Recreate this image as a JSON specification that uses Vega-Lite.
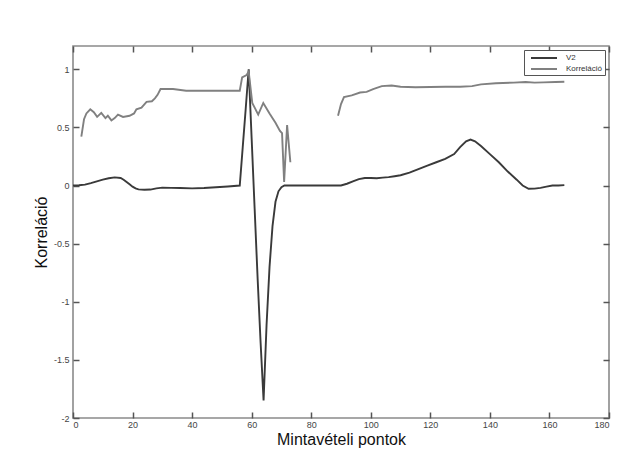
{
  "$schema": "https://vega.github.io/schema/vega-lite/v6.json",
  "width": 536,
  "height": 372,
  "autosize": {"type": "none"},
  "padding": {"left": 73, "top": 46, "right": 29, "bottom": 50},
  "background": "white",
  "config": {
    "font": "Liberation Sans",
    "view": {"stroke": "#8a8a8a", "strokeWidth": 1.6},
    "axis": {
      "grid": false,
      "domain": false,
      "offset": -6,
      "tickColor": "#555555",
      "tickWidth": 1.5,
      "tickSize": 6,
      "ticks": true,
      "labelFont": "Liberation Sans",
      "labelFontSize": 9,
      "labelColor": "#444444",
      "titleFont": "Liberation Sans",
      "titleFontSize": 16,
      "titleFontWeight": "normal",
      "titleColor": "#111111"
    }
  },
  "data": {
    "values": [
      {"series": "V2", "seg": 0, "x": 0, "v": 0}, {"series": "V2", "seg": 0, "x": 2, "v": 0.002}, {"series": "V2", "seg": 0, "x": 4, "v": 0.008}, {"series": "V2", "seg": 0, "x": 6, "v": 0.02},
      {"series": "V2", "seg": 0, "x": 8, "v": 0.035}, {"series": "V2", "seg": 0, "x": 10, "v": 0.05}, {"series": "V2", "seg": 0, "x": 12, "v": 0.062}, {"series": "V2", "seg": 0, "x": 14, "v": 0.07},
      {"series": "V2", "seg": 0, "x": 16, "v": 0.065}, {"series": "V2", "seg": 0, "x": 17, "v": 0.05}, {"series": "V2", "seg": 0, "x": 18, "v": 0.03}, {"series": "V2", "seg": 0, "x": 19, "v": 0.01},
      {"series": "V2", "seg": 0, "x": 20, "v": -0.01}, {"series": "V2", "seg": 0, "x": 21, "v": -0.025}, {"series": "V2", "seg": 0, "x": 22, "v": -0.033}, {"series": "V2", "seg": 0, "x": 24, "v": -0.037},
      {"series": "V2", "seg": 0, "x": 26, "v": -0.035}, {"series": "V2", "seg": 0, "x": 28, "v": -0.025}, {"series": "V2", "seg": 0, "x": 30, "v": -0.018}, {"series": "V2", "seg": 0, "x": 33, "v": -0.02},
      {"series": "V2", "seg": 0, "x": 36, "v": -0.022}, {"series": "V2", "seg": 0, "x": 40, "v": -0.025}, {"series": "V2", "seg": 0, "x": 44, "v": -0.022}, {"series": "V2", "seg": 0, "x": 48, "v": -0.015},
      {"series": "V2", "seg": 0, "x": 52, "v": -0.008}, {"series": "V2", "seg": 0, "x": 56, "v": 0}, {"series": "V2", "seg": 0, "x": 57, "v": 0.33}, {"series": "V2", "seg": 0, "x": 58, "v": 0.66},
      {"series": "V2", "seg": 0, "x": 59, "v": 1.0}, {"series": "V2", "seg": 0, "x": 60, "v": 0.4}, {"series": "V2", "seg": 0, "x": 61, "v": -0.2}, {"series": "V2", "seg": 0, "x": 62, "v": -0.8},
      {"series": "V2", "seg": 0, "x": 63, "v": -1.35}, {"series": "V2", "seg": 0, "x": 64, "v": -1.85}, {"series": "V2", "seg": 0, "x": 65, "v": -1.2}, {"series": "V2", "seg": 0, "x": 66, "v": -0.7},
      {"series": "V2", "seg": 0, "x": 67, "v": -0.35}, {"series": "V2", "seg": 0, "x": 68, "v": -0.14}, {"series": "V2", "seg": 0, "x": 69, "v": -0.05}, {"series": "V2", "seg": 0, "x": 70, "v": -0.015},
      {"series": "V2", "seg": 0, "x": 71, "v": 0}, {"series": "V2", "seg": 0, "x": 75, "v": 0}, {"series": "V2", "seg": 0, "x": 80, "v": 0}, {"series": "V2", "seg": 0, "x": 85, "v": 0}, {"series": "V2", "seg": 0, "x": 90, "v": 0},
      {"series": "V2", "seg": 0, "x": 92, "v": 0.015}, {"series": "V2", "seg": 0, "x": 94, "v": 0.035}, {"series": "V2", "seg": 0, "x": 96, "v": 0.055}, {"series": "V2", "seg": 0, "x": 98, "v": 0.065},
      {"series": "V2", "seg": 0, "x": 100, "v": 0.065}, {"series": "V2", "seg": 0, "x": 102, "v": 0.063}, {"series": "V2", "seg": 0, "x": 104, "v": 0.068}, {"series": "V2", "seg": 0, "x": 106, "v": 0.072},
      {"series": "V2", "seg": 0, "x": 108, "v": 0.08}, {"series": "V2", "seg": 0, "x": 110, "v": 0.088}, {"series": "V2", "seg": 0, "x": 113, "v": 0.11}, {"series": "V2", "seg": 0, "x": 116, "v": 0.14},
      {"series": "V2", "seg": 0, "x": 119, "v": 0.17}, {"series": "V2", "seg": 0, "x": 122, "v": 0.2}, {"series": "V2", "seg": 0, "x": 125, "v": 0.23}, {"series": "V2", "seg": 0, "x": 128, "v": 0.27},
      {"series": "V2", "seg": 0, "x": 130, "v": 0.33}, {"series": "V2", "seg": 0, "x": 132, "v": 0.38}, {"series": "V2", "seg": 0, "x": 133.5, "v": 0.395}, {"series": "V2", "seg": 0, "x": 135, "v": 0.38},
      {"series": "V2", "seg": 0, "x": 137, "v": 0.34}, {"series": "V2", "seg": 0, "x": 140, "v": 0.27}, {"series": "V2", "seg": 0, "x": 143, "v": 0.2}, {"series": "V2", "seg": 0, "x": 146, "v": 0.12},
      {"series": "V2", "seg": 0, "x": 149, "v": 0.05}, {"series": "V2", "seg": 0, "x": 151, "v": 0.0}, {"series": "V2", "seg": 0, "x": 153, "v": -0.028}, {"series": "V2", "seg": 0, "x": 155, "v": -0.027},
      {"series": "V2", "seg": 0, "x": 157, "v": -0.02}, {"series": "V2", "seg": 0, "x": 159, "v": -0.01}, {"series": "V2", "seg": 0, "x": 161, "v": 0}, {"series": "V2", "seg": 0, "x": 163, "v": 0},
      {"series": "V2", "seg": 0, "x": 165, "v": 0.003},
      {"series": "Korreláció", "seg": 1, "x": 2.8, "v": 0.42}, {"series": "Korreláció", "seg": 1, "x": 3.7, "v": 0.57}, {"series": "Korreláció", "seg": 1, "x": 4.5, "v": 0.62},
      {"series": "Korreláció", "seg": 1, "x": 5.8, "v": 0.655}, {"series": "Korreláció", "seg": 1, "x": 7, "v": 0.63}, {"series": "Korreláció", "seg": 1, "x": 8.1, "v": 0.59},
      {"series": "Korreláció", "seg": 1, "x": 9.5, "v": 0.625}, {"series": "Korreláció", "seg": 1, "x": 10.9, "v": 0.58}, {"series": "Korreláció", "seg": 1, "x": 11.7, "v": 0.6},
      {"series": "Korreláció", "seg": 1, "x": 12.9, "v": 0.56}, {"series": "Korreláció", "seg": 1, "x": 14, "v": 0.58}, {"series": "Korreláció", "seg": 1, "x": 15.1, "v": 0.61},
      {"series": "Korreláció", "seg": 1, "x": 16.8, "v": 0.59}, {"series": "Korreláció", "seg": 1, "x": 19, "v": 0.6}, {"series": "Korreláció", "seg": 1, "x": 20.5, "v": 0.62},
      {"series": "Korreláció", "seg": 1, "x": 21.3, "v": 0.655}, {"series": "Korreláció", "seg": 1, "x": 23, "v": 0.67}, {"series": "Korreláció", "seg": 1, "x": 24.7, "v": 0.72},
      {"series": "Korreláció", "seg": 1, "x": 26.5, "v": 0.725}, {"series": "Korreláció", "seg": 1, "x": 27.5, "v": 0.75}, {"series": "Korreláció", "seg": 1, "x": 28.4, "v": 0.78},
      {"series": "Korreláció", "seg": 1, "x": 29.4, "v": 0.83}, {"series": "Korreláció", "seg": 1, "x": 33.6, "v": 0.83}, {"series": "Korreláció", "seg": 1, "x": 38, "v": 0.815},
      {"series": "Korreláció", "seg": 1, "x": 45, "v": 0.815}, {"series": "Korreláció", "seg": 1, "x": 50, "v": 0.815}, {"series": "Korreláció", "seg": 1, "x": 56, "v": 0.815},
      {"series": "Korreláció", "seg": 1, "x": 56.8, "v": 0.93}, {"series": "Korreláció", "seg": 1, "x": 58.3, "v": 0.95}, {"series": "Korreláció", "seg": 1, "x": 59, "v": 0.98},
      {"series": "Korreláció", "seg": 1, "x": 60.2, "v": 0.71}, {"series": "Korreláció", "seg": 1, "x": 62.2, "v": 0.61}, {"series": "Korreláció", "seg": 1, "x": 63.9, "v": 0.71},
      {"series": "Korreláció", "seg": 1, "x": 66, "v": 0.62}, {"series": "Korreláció", "seg": 1, "x": 68, "v": 0.54}, {"series": "Korreláció", "seg": 1, "x": 69.5, "v": 0.47},
      {"series": "Korreláció", "seg": 1, "x": 70.2, "v": 0.45}, {"series": "Korreláció", "seg": 1, "x": 70.9, "v": 0.03}, {"series": "Korreláció", "seg": 1, "x": 71.9, "v": 0.52},
      {"series": "Korreláció", "seg": 1, "x": 73, "v": 0.2},
      {"series": "Korreláció", "seg": 2, "x": 89, "v": 0.6}, {"series": "Korreláció", "seg": 2, "x": 90, "v": 0.7}, {"series": "Korreláció", "seg": 2, "x": 91, "v": 0.76},
      {"series": "Korreláció", "seg": 2, "x": 93.6, "v": 0.775}, {"series": "Korreláció", "seg": 2, "x": 96.4, "v": 0.8}, {"series": "Korreláció", "seg": 2, "x": 98.6, "v": 0.805},
      {"series": "Korreláció", "seg": 2, "x": 100.8, "v": 0.83}, {"series": "Korreláció", "seg": 2, "x": 103.7, "v": 0.855}, {"series": "Korreláció", "seg": 2, "x": 107, "v": 0.86},
      {"series": "Korreláció", "seg": 2, "x": 110, "v": 0.85}, {"series": "Korreláció", "seg": 2, "x": 115, "v": 0.845}, {"series": "Korreláció", "seg": 2, "x": 120, "v": 0.847},
      {"series": "Korreláció", "seg": 2, "x": 125, "v": 0.85}, {"series": "Korreláció", "seg": 2, "x": 130, "v": 0.85}, {"series": "Korreláció", "seg": 2, "x": 134, "v": 0.855},
      {"series": "Korreláció", "seg": 2, "x": 137, "v": 0.87}, {"series": "Korreláció", "seg": 2, "x": 142, "v": 0.88}, {"series": "Korreláció", "seg": 2, "x": 148, "v": 0.885},
      {"series": "Korreláció", "seg": 2, "x": 152, "v": 0.89}, {"series": "Korreláció", "seg": 2, "x": 155, "v": 0.885}, {"series": "Korreláció", "seg": 2, "x": 158, "v": 0.887},
      {"series": "Korreláció", "seg": 2, "x": 162, "v": 0.89}, {"series": "Korreláció", "seg": 2, "x": 165, "v": 0.893}
    ]
  },
  "layer": [
    {
      "mark": {"type": "line", "strokeWidth": 1.9, "clip": true},
      "encoding": {
        "x": {"field": "x", "type": "quantitative",
              "scale": {"domain": [0, 180], "nice": false, "zero": false},
              "axis": {"orient": "bottom", "title": "Mintavételi pontok", "values": [0,20,40,60,80,100,120,140,160,180], "labelPadding": 2, "titlePadding": 2}},
        "y": {"field": "v", "type": "quantitative",
              "scale": {"domain": [-2, 1.2], "nice": false, "zero": false},
              "axis": {"orient": "left", "title": "Korreláció", "values": [-2,-1.5,-1,-0.5,0,0.5,1], "labelExpr": "toString(datum.value)", "labelPadding": 4, "titlePadding": 4}},
        "color": {"field": "series", "type": "nominal",
                  "scale": {"domain": ["V2", "Korreláció"], "range": ["#3a3a3a", "#808080"]},
                  "legend": {"title": null, "orient": "top-right", "offset": 4, "symbolType": "M-2.6,0H2.6", "symbolSize": 100, "symbolStrokeWidth": 2, "labelFontSize": 8, "labelColor": "#333333", "strokeColor": "#555555", "fillColor": "white", "padding": 2, "rowPadding": 1, "labelOffset": 16, "symbolOffset": 12}},
        "detail": {"field": "seg", "type": "nominal"}
      }
    },
    {
      "mark": {"type": "line", "opacity": 0},
      "encoding": {
        "x": {"field": "x", "type": "quantitative",
              "axis": {"orient": "top", "title": null, "labels": false, "values": [0,20,40,60,80,100,120,140,160,180]}},
        "y": {"field": "v", "type": "quantitative",
              "axis": {"orient": "right", "title": null, "labels": false, "values": [-2,-1.5,-1,-0.5,0,0.5,1]}},
        "detail": {"field": "seg", "type": "nominal"}
      }
    }
  ],
  "resolve": {"axis": {"x": "independent", "y": "independent"}}
}
